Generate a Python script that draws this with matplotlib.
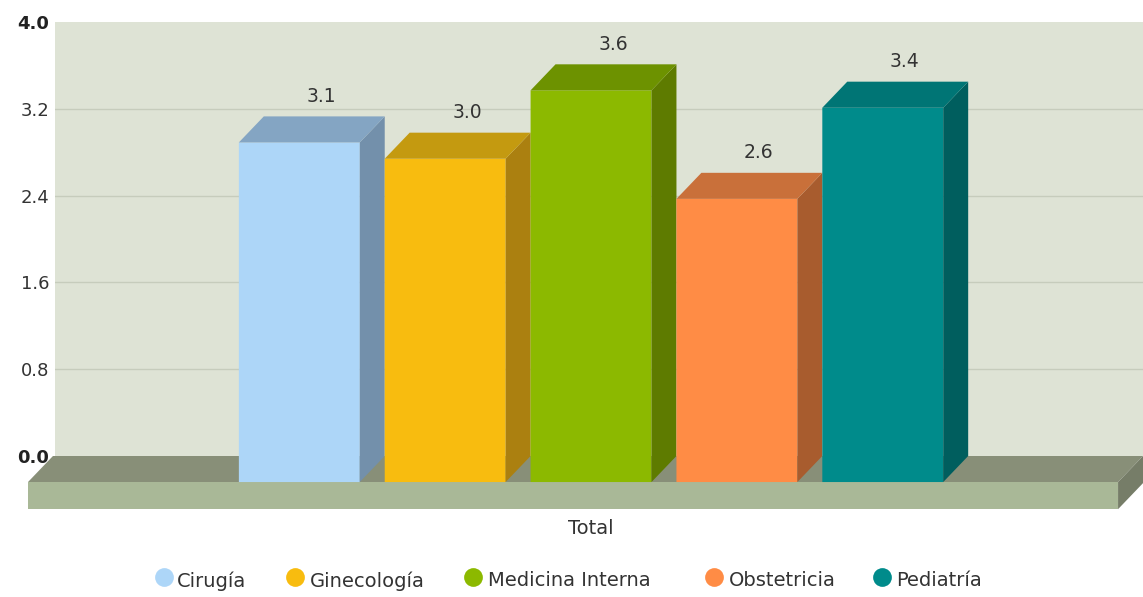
import matplotlib
matplotlib.use('Agg')
import matplotlib.pyplot as plt
import numpy as np
from matplotlib.lines import Line2D
from matplotlib.patches import Polygon, Rectangle

categories = ['Cirugía', 'Ginecología', 'Medicina Interna', 'Obstetricia', 'Pediatría']
values = [3.13, 2.98, 3.61, 2.61, 3.45]
labels = ['3.1', '3.0', '3.6', '2.6', '3.4']
front_colors = ['#ADD6F8', '#F8BC0F', '#8CB900', '#FF8C45', '#008B8B']
side_colors = ['#7390AB', '#AB8010', '#5E7B00', '#A85C2E', '#005E5E']
top_colors = ['#84A5C3', '#C49A10', '#6D9200', '#C9703A', '#007575']
yticks = [0.0, 0.8, 1.6, 2.4, 3.2, 4.0]

# 3d look: depth of the extrusion in data units
dx = 0.171
dy = 0.24
w = 0.829
floor_left = -1.86
floor_right = 5.613
floor_thick = 0.25

# legend layout in pixels (marker x, text x)
legend_marker_x = [164, 295, 473, 714, 882]
legend_text_x = [177, 310, 488, 729, 896]

fig = plt.figure(figsize=(11.43, 5.97), dpi=100)
ax = fig.add_axes([55 / 1143, 1 - 456 / 597, 1088 / 1143, 434 / 597])
ax.set_facecolor('#DEE3D5')
for s in ax.spines.values():
    s.set_visible(False)
ax.set_xlim(-1.675, floor_right + dx)
ax.set_ylim(0, 4.0)

ax.grid(axis='y', color='#C6CCBC', linewidth=1)
ax.set_axisbelow(True)

# floor
ax.add_patch(Polygon([(floor_left, -dy), (floor_left + dx, 0), (floor_right + dx, 0), (floor_right, -dy)],
                     closed=True, color='#888F78', clip_on=False, zorder=1.5, lw=0))
ax.add_patch(Rectangle((floor_left, -dy - floor_thick), floor_right - floor_left, floor_thick,
                       color='#A9B897', clip_on=False, zorder=1.6, lw=0))
ax.add_patch(Polygon([(floor_right, -dy), (floor_right + dx, 0), (floor_right + dx, -floor_thick),
                      (floor_right, -dy - floor_thick)],
                     closed=True, color='#767D68', clip_on=False, zorder=1.6, lw=0))

x = np.arange(len(values))
for i, v in enumerate(values):
    left = x[i] - w / 2
    right = x[i] + w / 2
    ax.bar(x[i], v, w, bottom=-dy, color=front_colors[i], clip_on=False, zorder=3 + i, snap=False)
    ax.add_patch(Polygon([(right, -dy), (right + dx, 0), (right + dx, v), (right, v - dy)],
                         closed=True, color=side_colors[i], clip_on=False, zorder=3 + i, lw=0))
    ax.add_patch(Polygon([(left, v - dy), (left + dx, v), (right + dx, v), (right, v - dy)],
                         closed=True, color=top_colors[i], clip_on=False, zorder=3 + i, lw=0))
    ax.text(x[i] + 0.15, v + 0.185, labels[i], ha='center', va='center', fontsize=13.5,
            color='#333333', zorder=10)

ax.set_xticks([2], ['Total'], fontsize=14, color='#333333')
ax.tick_params(axis='x', length=0, pad=45)
ax.set_yticks(yticks, ['%.1f' % t for t in yticks], fontsize=13, color='#333333')
ax.tick_params(axis='y', length=0, pad=4)
for t in ax.get_yticklabels():
    if t.get_text() in ('0.0', '4.0'):
        t.set_fontweight('bold')
        t.set_color('#222222')
# no line along the top and bottom of the wall
gl = ax.yaxis.get_gridlines()
gl[0].set_visible(False)
gl[-1].set_visible(False)

for i, name in enumerate(categories):
    fig.add_artist(Line2D([legend_marker_x[i] / 1143], [1 - 577 / 597], transform=fig.transFigure,
                          linestyle='none', marker='o', markersize=13.5,
                          markerfacecolor=front_colors[i], markeredgecolor='none'))
    fig.text(legend_text_x[i] / 1143, 1 - 581 / 597, name, ha='left', va='center',
             fontsize=14, color='#333333')

fig.savefig('out.png', dpi=100)
